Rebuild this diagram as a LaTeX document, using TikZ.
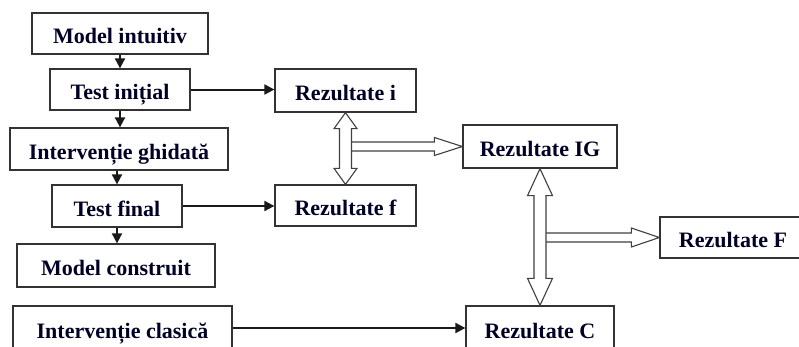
\documentclass[tikz,border=0pt]{standalone}
\usepackage{fontspec}
\setmainfont{Liberation Serif}
\usetikzlibrary{arrows.meta,calc}
\begin{document}
\begin{tikzpicture}[x=1pt,y=-1pt,
  box/.style={draw=black!80,line width=1.3pt,fill=white,inner sep=0pt,
    font=\fontsize{22}{24}\selectfont\bfseries,text=black!85!blue,
    text height=20.5pt,text depth=0pt},
  flow/.style={line width=2pt,draw=black!90,-{Triangle[length=10pt,width=10pt]}},
  hollow/.style={draw=black!75,line width=1.1pt,fill=white,line join=miter}]
\clip (0,0) rectangle (799,346);
% left column
\node[box,minimum width=176pt,minimum height=41pt] (mi) at (120,33.5) {Model intuitiv};
\node[box,minimum width=140pt,minimum height=41pt] (ti) at (120,89.5) {Test inițial};
\node[box,minimum width=218pt,minimum height=42pt] (ig) at (119,149) {Intervenție ghidată};
\node[box,minimum width=130pt,minimum height=42pt] (tf) at (117,206) {Test final};
\node[box,minimum width=198pt,minimum height=43pt] (mc) at (116,265.5) {Model construit};
\node[box,minimum width=219pt,minimum height=44pt] (ic) at (122.5,328) {Intervenție clasică};
% results
\node[box,minimum width=141pt,minimum height=43pt] (ri) at (345.5,90.5) {Rezultate i};
\node[box,minimum width=141pt,minimum height=41pt] (rf) at (345.5,205.5) {Rezultate f};
\node[box,minimum width=154pt,minimum height=43pt] (rIG) at (540,146.5) {Rezultate IG};
\node[box,minimum width=146pt,minimum height=41pt] (rF) at (733,237.5) {Rezultate F};
\node[box,minimum width=148pt,minimum height=44pt] (rC) at (540,328) {Rezultate C};
% small down arrows
\draw[flow] (mi.south) -- (mi.south |- ti.north);
\draw[flow] (ti.south) -- (ti.south |- ig.north);
\draw[flow] (ig.south -| tf.south) -- (tf.north);
\draw[flow] (tf.south) -- (tf.south |- mc.north);
% horizontal black arrows
\draw[flow] (ti.east) -- (ti.east -| ri.west);
\draw[flow] (tf.east) -- (tf.east -| rf.west);
\draw[flow] (ic.east) -- (ic.east -| rC.west);
% hollow horizontal arrows
\coordinate (s1) at ($(ri.south |- rIG.west)+(6,0)$);
\draw[hollow] ($(s1)+(0,-4.5)$) -- ($(rIG.west)+(-28,-4.5)$) -- ($(rIG.west)+(-28,-9)$)
  -- (rIG.west) -- ($(rIG.west)+(-28,9)$) -- ($(rIG.west)+(-28,4.5)$) -- ($(s1)+(0,4.5)$);
\coordinate (s2) at ($(rIG.south |- rF.west)+(6,0)$);
\draw[hollow] ($(s2)+(0,-4.5)$) -- ($(rF.west)+(-28,-4.5)$) -- ($(rF.west)+(-28,-9.5)$)
  -- (rF.west) -- ($(rF.west)+(-28,9.5)$) -- ($(rF.west)+(-28,4.5)$) -- ($(s2)+(0,4.5)$);
% hollow double arrow i <-> f
\draw[hollow] (ri.south) -- ($(ri.south)+(-11.5,16)$) -- ($(ri.south)+(-6,16)$)
  -- ($(rf.north)+(-6,-16)$) -- ($(rf.north)+(-11.5,-16)$) -- (rf.north)
  -- ($(rf.north)+(11.5,-16)$) -- ($(rf.north)+(6,-16)$)
  -- ($(ri.south)+(6,16)$) -- ($(ri.south)+(11.5,16)$) -- cycle;
% hollow double arrow IG <-> C
\draw[hollow] (rIG.south) -- ($(rIG.south)+(-12.5,27)$) -- ($(rIG.south)+(-6,27)$)
  -- ($(rC.north)+(-6,-27)$) -- ($(rC.north)+(-12.5,-27)$) -- (rC.north)
  -- ($(rC.north)+(12.5,-27)$) -- ($(rC.north)+(6,-27)$)
  -- ($(rIG.south)+(6,27)$) -- ($(rIG.south)+(12.5,27)$) -- cycle;
\end{tikzpicture}
\end{document}
